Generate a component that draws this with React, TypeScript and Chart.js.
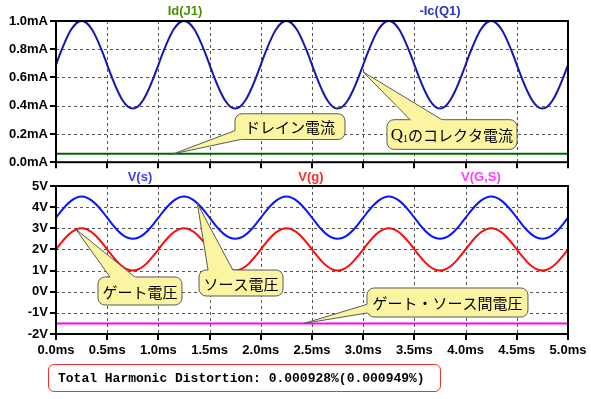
import React, { useEffect, useRef } from "react";
import { Chart, registerables } from "chart.js";

Chart.register(...registerables);

// ---------- data ----------
const TIME_MS = [
  0.0, 0.05, 0.1, 0.15, 0.2, 0.25, 0.3, 0.35, 0.4, 0.45, 0.5, 0.55, 0.6, 0.65, 0.7, 0.75, 0.8, 0.85, 0.9, 0.95,
  1.0, 1.05, 1.1, 1.15, 1.2, 1.25, 1.3, 1.35, 1.4, 1.45, 1.5, 1.55, 1.6, 1.65, 1.7, 1.75, 1.8, 1.85, 1.9, 1.95,
  2.0, 2.05, 2.1, 2.15, 2.2, 2.25, 2.3, 2.35, 2.4, 2.45, 2.5, 2.55, 2.6, 2.65, 2.7, 2.75, 2.8, 2.85, 2.9, 2.95,
  3.0, 3.05, 3.1, 3.15, 3.2, 3.25, 3.3, 3.35, 3.4, 3.45, 3.5, 3.55, 3.6, 3.65, 3.7, 3.75, 3.8, 3.85, 3.9, 3.95,
  4.0, 4.05, 4.1, 4.15, 4.2, 4.25, 4.3, 4.35, 4.4, 4.45, 4.5, 4.55, 4.6, 4.65, 4.7, 4.75, 4.8, 4.85, 4.9, 4.95,
  5.0,
];

// -Ic(Q1) in mA
const IC_Q1_MA = [
  0.690, 0.786, 0.872, 0.941, 0.985, 1.000, 0.985, 0.941, 0.872, 0.786, 0.690, 0.594, 0.508, 0.439, 0.395, 0.380, 0.395, 0.439, 0.508, 0.594,
  0.690, 0.786, 0.872, 0.941, 0.985, 1.000, 0.985, 0.941, 0.872, 0.786, 0.690, 0.594, 0.508, 0.439, 0.395, 0.380, 0.395, 0.439, 0.508, 0.594,
  0.690, 0.786, 0.872, 0.941, 0.985, 1.000, 0.985, 0.941, 0.872, 0.786, 0.690, 0.594, 0.508, 0.439, 0.395, 0.380, 0.395, 0.439, 0.508, 0.594,
  0.690, 0.786, 0.872, 0.941, 0.985, 1.000, 0.985, 0.941, 0.872, 0.786, 0.690, 0.594, 0.508, 0.439, 0.395, 0.380, 0.395, 0.439, 0.508, 0.594,
  0.690, 0.786, 0.872, 0.941, 0.985, 1.000, 0.985, 0.941, 0.872, 0.786, 0.690, 0.594, 0.508, 0.439, 0.395, 0.380, 0.395, 0.439, 0.508, 0.594,
  0.690,
];

// V(s)
const V_S = [
  3.50, 3.81, 4.09, 4.31, 4.45, 4.50, 4.45, 4.31, 4.09, 3.81, 3.50, 3.19, 2.91, 2.69, 2.55, 2.50, 2.55, 2.69, 2.91, 3.19,
  3.50, 3.81, 4.09, 4.31, 4.45, 4.50, 4.45, 4.31, 4.09, 3.81, 3.50, 3.19, 2.91, 2.69, 2.55, 2.50, 2.55, 2.69, 2.91, 3.19,
  3.50, 3.81, 4.09, 4.31, 4.45, 4.50, 4.45, 4.31, 4.09, 3.81, 3.50, 3.19, 2.91, 2.69, 2.55, 2.50, 2.55, 2.69, 2.91, 3.19,
  3.50, 3.81, 4.09, 4.31, 4.45, 4.50, 4.45, 4.31, 4.09, 3.81, 3.50, 3.19, 2.91, 2.69, 2.55, 2.50, 2.55, 2.69, 2.91, 3.19,
  3.50, 3.81, 4.09, 4.31, 4.45, 4.50, 4.45, 4.31, 4.09, 3.81, 3.50, 3.19, 2.91, 2.69, 2.55, 2.50, 2.55, 2.69, 2.91, 3.19,
  3.50,
];

// V(g)
const V_G = [
  2.00, 2.31, 2.59, 2.81, 2.95, 3.00, 2.95, 2.81, 2.59, 2.31, 2.00, 1.69, 1.41, 1.19, 1.05, 1.00, 1.05, 1.19, 1.41, 1.69,
  2.00, 2.31, 2.59, 2.81, 2.95, 3.00, 2.95, 2.81, 2.59, 2.31, 2.00, 1.69, 1.41, 1.19, 1.05, 1.00, 1.05, 1.19, 1.41, 1.69,
  2.00, 2.31, 2.59, 2.81, 2.95, 3.00, 2.95, 2.81, 2.59, 2.31, 2.00, 1.69, 1.41, 1.19, 1.05, 1.00, 1.05, 1.19, 1.41, 1.69,
  2.00, 2.31, 2.59, 2.81, 2.95, 3.00, 2.95, 2.81, 2.59, 2.31, 2.00, 1.69, 1.41, 1.19, 1.05, 1.00, 1.05, 1.19, 1.41, 1.69,
  2.00, 2.31, 2.59, 2.81, 2.95, 3.00, 2.95, 2.81, 2.59, 2.31, 2.00, 1.69, 1.41, 1.19, 1.05, 1.00, 1.05, 1.19, 1.41, 1.69,
  2.00,
];

// constant traces
const FLAT_TIME_MS = [0, 5];
const ID_J1_MA = [0.06, 0.06];
const V_GS = [-1.5, -1.5];

// ticks
const X_TICK_VALUES = [0, 0.5, 1, 1.5, 2, 2.5, 3, 3.5, 4, 4.5, 5];
const X_TICK_LABELS = ["0.0ms", "0.5ms", "1.0ms", "1.5ms", "2.0ms", "2.5ms", "3.0ms", "3.5ms", "4.0ms", "4.5ms", "5.0ms"];
const TOP_Y_VALUES = [0, 0.2, 0.4, 0.6, 0.8, 1.0];
const TOP_Y_LABELS = ["0.0mA", "0.2mA", "0.4mA", "0.6mA", "0.8mA", "1.0mA"];
const BOT_Y_VALUES = [-2, -1, 0, 1, 2, 3, 4, 5];
const BOT_Y_LABELS = ["-2V", "-1V", "0V", "1V", "2V", "3V", "4V", "5V"];

const THD_TEXT = "Total Harmonic Distortion: 0.000928%(0.000949%)";

// ---------- styling ----------
const AXIS_FONT = { family: "'Liberation Sans', Arial, sans-serif", size: 13, weight: "bold" as const };
const CJK_FONT = "15px 'Noto Sans CJK JP', sans-serif";
const CALLOUT_FILL = "#fbf5a2";
const CALLOUT_STROKE = "#5a5a5a";
const GRID_COLOR = "#555555";

type Part = { text: string; font: string; dy: number };
type Callout = {
  tip: [number, number];
  b1: [number, number];
  b2: [number, number];
  box: [number, number, number, number]; // x0, x1, yTop, yBottom (data units)
  parts: Part[];
};

const TOP_TITLES = [
  { text: "Id(J1)", color: "#4a9200", frac: 0.252 },
  { text: "-Ic(Q1)", color: "#2a36c0", frac: 0.75 },
];
const BOT_TITLES = [
  { text: "V(s)", color: "#3c3cff", frac: 0.164 },
  { text: "V(g)", color: "#ff2a2a", frac: 0.498 },
  { text: "V(G,S)", color: "#ff3cff", frac: 0.83 },
];

const TOP_CALLOUTS: Callout[] = [
  {
    tip: [1.15, 0.06],
    b1: [1.8, 0.238],
    b2: [1.895, 0.175],
    box: [1.748, 2.822, 0.343, 0.161],
    parts: [{ text: "ドレイン電流", font: CJK_FONT, dy: 0 }],
  },
  {
    tip: [2.998, 0.64],
    b1: [3.506, 0.266],
    b2: [3.848, 0.266],
    box: [3.232, 4.502, 0.301, 0.091],
    parts: [
      { text: "Q", font: "17px 'Liberation Serif', serif", dy: 0 },
      { text: "1", font: "10px 'Liberation Serif', serif", dy: 4 },
      { text: "のコレクタ電流", font: CJK_FONT, dy: 0 },
    ],
  },
];

const BOT_CALLOUTS: Callout[] = [
  {
    tip: [0.195, 2.95],
    b1: [0.562, 0.46],
    b2: [0.83, 0.46],
    box: [0.41, 1.23, 0.696, -0.628],
    parts: [{ text: "ゲート電圧", font: CJK_FONT, dy: 0 }],
  },
  {
    tip: [1.38, 4.18],
    b1: [1.494, 0.744],
    b2: [1.758, 0.744],
    box: [1.397, 2.217, 1.027, -0.202],
    parts: [{ text: "ソース電圧", font: CJK_FONT, dy: 0 }],
  },
  {
    tip: [2.42, -1.5],
    b1: [3.115, -0.486],
    b2: [3.115, -0.945],
    box: [3.037, 4.609, 0.176, -1.196],
    parts: [{ text: "ゲート・ソース間電圧", font: CJK_FONT, dy: 0 }],
  },
];

// ---------- plugins ----------
function makeDecorPlugin(
  yValues: number[],
  titles: { text: string; color: string; frac: number }[],
  callouts: Callout[]
) {
  const drawGrid = (chart: any) => {
    const { ctx, chartArea: a } = chart;
    const xs = chart.scales.x;
    const ys = chart.scales.y;
    ctx.save();
    ctx.strokeStyle = GRID_COLOR;
    ctx.lineWidth = 1;
    ctx.setLineDash([3, 3]);
    ctx.beginPath();
    for (const v of X_TICK_VALUES) {
      const x = Math.round(xs.getPixelForValue(v)) + 0.5;
      ctx.moveTo(x, a.top);
      ctx.lineTo(x, a.bottom);
    }
    for (const v of yValues) {
      const y = Math.round(ys.getPixelForValue(v)) + 0.5;
      ctx.moveTo(a.left, y);
      ctx.lineTo(a.right, y);
    }
    ctx.stroke();
    ctx.setLineDash([]);
    ctx.strokeStyle = "#000";
    ctx.lineWidth = 2;
    ctx.beginPath();
    for (const v of X_TICK_VALUES) {
      const x = Math.round(xs.getPixelForValue(v));
      ctx.moveTo(x, a.bottom);
      ctx.lineTo(x, a.bottom + 6);
    }
    for (const v of yValues) {
      const y = Math.round(ys.getPixelForValue(v));
      ctx.moveTo(a.left - 6, y);
      ctx.lineTo(a.left, y);
    }
    ctx.stroke();
    ctx.restore();
  };

  const drawFrame = (chart: any) => {
    const { ctx, chartArea: a } = chart;
    ctx.save();
    ctx.strokeStyle = "#000";
    ctx.lineWidth = 2;
    ctx.setLineDash([]);
    ctx.strokeRect(a.left, a.top, a.right - a.left, a.bottom - a.top);
    ctx.restore();
  };

  const drawTitles = (chart: any) => {
    const { ctx, chartArea: a } = chart;
    ctx.save();
    ctx.font = "bold 13px 'Liberation Sans', Arial, sans-serif";
    ctx.textAlign = "center";
    ctx.textBaseline = "middle";
    for (const t of titles) {
      ctx.fillStyle = t.color;
      ctx.fillText(t.text, a.left + (a.right - a.left) * t.frac, 11);
    }
    ctx.restore();
  };

  const drawCallouts = (chart: any) => {
    const { ctx } = chart;
    const xs = chart.scales.x;
    const ys = chart.scales.y;
    const W = chart.width;
    const H = chart.height;
    for (const c of callouts) {
      const x0 = xs.getPixelForValue(c.box[0]);
      const x1 = xs.getPixelForValue(c.box[1]);
      const y0 = ys.getPixelForValue(c.box[2]);
      const y1 = ys.getPixelForValue(c.box[3]);
      const T = [xs.getPixelForValue(c.tip[0]), ys.getPixelForValue(c.tip[1])];
      const B1 = [xs.getPixelForValue(c.b1[0]), ys.getPixelForValue(c.b1[1])];
      const B2 = [xs.getPixelForValue(c.b2[0]), ys.getPixelForValue(c.b2[1])];
      const r = 7;
      const boxSub = () => ctx.roundRect(x0, y0, x1 - x0, y1 - y0, r);
      const triSub = () => {
        ctx.moveTo(T[0], T[1]);
        ctx.lineTo(B1[0], B1[1]);
        ctx.lineTo(B2[0], B2[1]);
        ctx.closePath();
      };
      ctx.save();
      ctx.setLineDash([]);
      ctx.fillStyle = CALLOUT_FILL;
      ctx.strokeStyle = CALLOUT_STROKE;
      ctx.lineWidth = 1;
      ctx.beginPath();
      boxSub();
      ctx.fill();
      ctx.beginPath();
      triSub();
      ctx.fill();
      ctx.save();
      ctx.beginPath();
      ctx.rect(0, 0, W, H);
      triSub();
      ctx.clip("evenodd");
      ctx.beginPath();
      boxSub();
      ctx.stroke();
      ctx.restore();
      ctx.save();
      ctx.beginPath();
      ctx.rect(0, 0, W, H);
      boxSub();
      ctx.clip("evenodd");
      ctx.beginPath();
      triSub();
      ctx.stroke();
      ctx.restore();
      let total = 0;
      const widths: number[] = [];
      for (const p of c.parts) {
        ctx.font = p.font;
        const w = ctx.measureText(p.text).width;
        widths.push(w);
        total += w;
      }
      let tx = (x0 + x1) / 2 - total / 2;
      const ty = (y0 + y1) / 2 + 1;
      ctx.fillStyle = "#000";
      ctx.textAlign = "left";
      ctx.textBaseline = "middle";
      c.parts.forEach((p, i) => {
        ctx.font = p.font;
        ctx.fillText(p.text, tx, ty + p.dy);
        tx += widths[i];
      });
      ctx.restore();
    }
  };

  return {
    id: "decor",
    beforeDatasetsDraw(chart: any) {
      drawGrid(chart);
    },
    afterDatasetsDraw(chart: any) {
      drawFrame(chart);
    },
    afterDraw(chart: any) {
      drawTitles(chart);
      drawCallouts(chart);
    },
  };
}

// ---------- chart helpers ----------
function xScale(showLabels: boolean, height: number) {
  return {
    type: "linear" as const,
    min: 0,
    max: 5,
    afterBuildTicks: (s: any) => {
      s.ticks = X_TICK_VALUES.map((v) => ({ value: v }));
    },
    afterFit: (s: any) => {
      s.height = height;
    },
    ticks: {
      display: showLabels,
      autoSkip: false,
      maxRotation: 0,
      padding: 3,
      color: "#000",
      font: AXIS_FONT,
      callback: (_v: any, i: number) => X_TICK_LABELS[i],
    },
    grid: {
      display: false,
      drawTicks: true,
      tickLength: 6,
    },
    border: { display: false },
  };
}

function yScale(min: number, max: number, values: number[], labels: string[]) {
  return {
    type: "linear" as const,
    min,
    max,
    afterBuildTicks: (s: any) => {
      s.ticks = values.map((v) => ({ value: v }));
    },
    afterFit: (s: any) => {
      s.width = 56;
    },
    ticks: {
      autoSkip: false,
      padding: 2,
      color: "#000",
      font: AXIS_FONT,
      callback: (_v: any, i: number) => labels[i],
    },
    grid: {
      display: false,
      drawTicks: true,
      tickLength: 6,
    },
    border: { display: false },
  };
}

function series(xsArr: number[], ysArr: number[], color: string) {
  return {
    data: xsArr.map((x, i) => ({ x, y: ysArr[i] })),
    borderColor: color,
    borderWidth: 2,
    pointRadius: 0,
    fill: false,
    cubicInterpolationMode: "monotone" as const,
  };
}

export default function App() {
  const topRef = useRef<HTMLCanvasElement | null>(null);
  const botRef = useRef<HTMLCanvasElement | null>(null);

  useEffect(() => {
    const common = {
      animation: false as const,
      responsive: false,
      devicePixelRatio: 1,
      events: [] as any[],
    };
    const top = new Chart(topRef.current!, {
      type: "line",
      data: {
        datasets: [
          series(TIME_MS, IC_Q1_MA, "#1616b0"),
          series(FLAT_TIME_MS, ID_J1_MA, "#006400"),
        ],
      },
      options: {
        ...common,
        layout: { padding: { top: 21, right: 23, left: 0, bottom: 0 } },
        plugins: { legend: { display: false }, tooltip: { enabled: false } },
        scales: {
          x: xScale(false, 8),
          y: yScale(0, 1, TOP_Y_VALUES, TOP_Y_LABELS),
        },
      } as any,
      plugins: [makeDecorPlugin(TOP_Y_VALUES, TOP_TITLES, TOP_CALLOUTS)],
    });
    const bot = new Chart(botRef.current!, {
      type: "line",
      data: {
        datasets: [
          series(TIME_MS, V_S, "#0a14ff"),
          series(TIME_MS, V_G, "#ff0a0a"),
          series(FLAT_TIME_MS, V_GS, "#ff00ff"),
        ],
      },
      options: {
        ...common,
        layout: { padding: { top: 20, right: 23, left: 0, bottom: 0 } },
        plugins: { legend: { display: false }, tooltip: { enabled: false } },
        scales: {
          x: xScale(true, 36),
          y: yScale(-2, 5, BOT_Y_VALUES, BOT_Y_LABELS),
        },
      } as any,
      plugins: [makeDecorPlugin(BOT_Y_VALUES, BOT_TITLES, BOT_CALLOUTS)],
    });
    return () => {
      top.destroy();
      bot.destroy();
    };
  }, []);

  return (
    <div
      style={{
        position: "fixed",
        left: 0,
        top: 0,
        width: 591,
        height: 399,
        background: "#fff",
        overflow: "hidden",
      }}
    >
      <canvas
        ref={topRef}
        width={591}
        height={172}
        style={{ position: "absolute", left: 0, top: 0, width: 591, height: 172 }}
      />
      <canvas
        ref={botRef}
        width={591}
        height={204}
        style={{ position: "absolute", left: 0, top: 166, width: 591, height: 204 }}
      />
      <div
        style={{
          position: "absolute",
          left: 48,
          top: 364,
          width: 391,
          height: 26,
          border: "1px solid #f03232",
          borderRadius: 6,
          boxSizing: "content-box",
          fontFamily: "'Liberation Mono', 'Courier New', monospace",
          fontSize: 13,
          fontWeight: "bold",
          lineHeight: "27px",
          color: "#000",
          textIndent: 9,
          whiteSpace: "nowrap",
        }}
      >
        {THD_TEXT}
      </div>
    </div>
  );
}
